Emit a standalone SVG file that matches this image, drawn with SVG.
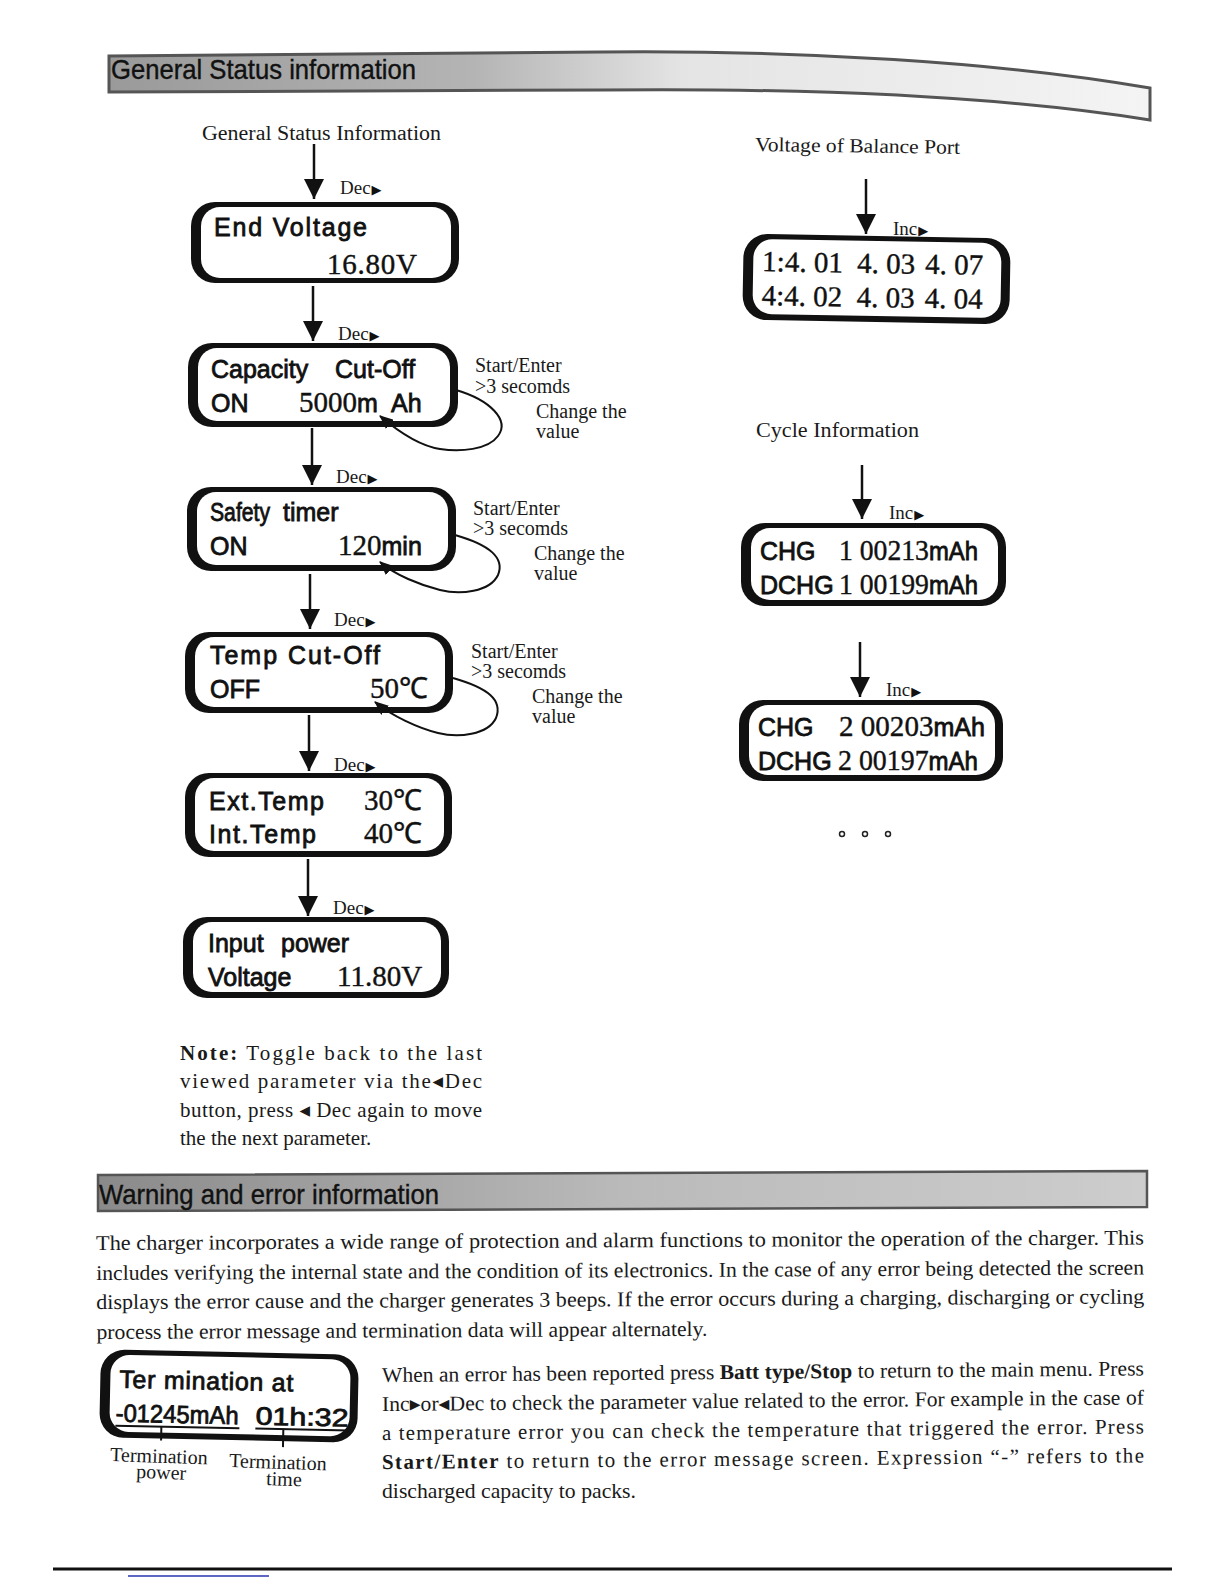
<svg xmlns="http://www.w3.org/2000/svg" width="1224" height="1584" viewBox="0 0 1224 1584">
<defs>
<style>
.bo{fill:#111}
.bi{fill:#fff}
.lcd{font-family:"Liberation Sans",Arial,sans-serif;font-size:25px;fill:#111;stroke:#111;stroke-width:0.8}
.num{font-family:"Liberation Serif","Times New Roman",serif;font-size:29px;fill:#111;stroke:#111;stroke-width:0.4}
.ser{font-family:"Liberation Serif","Times New Roman",serif;font-size:20px;fill:#1a1a1a}
.lbl{font-family:"Liberation Serif","Times New Roman",serif;font-size:19px;fill:#1a1a1a}
.tri{font-family:"DejaVu Sans",sans-serif;font-size:13px;fill:#111}
.arr{stroke:#111;stroke-width:2.5;fill:none}
.loop{stroke:#111;stroke-width:2;fill:none}
.hdr{font-family:"Liberation Sans",Arial,sans-serif;font-size:28px;fill:#111;stroke:#111;stroke-width:0.4}
.body{font-family:"Liberation Serif","DejaVu Sans","Times New Roman",serif;font-size:21px;fill:#1a1a1a}
</style>
<marker id="ah" markerWidth="20" markerHeight="20" refX="20" refY="10" orient="auto" markerUnits="userSpaceOnUse">
<path d="M0,0 L20,10 L0,20 Z" fill="#111"/>
</marker>
<marker id="sh" markerWidth="14" markerHeight="12" refX="13" refY="6" orient="auto" markerUnits="userSpaceOnUse">
<path d="M0,0 L14,6 L0,12 Z" fill="#111"/>
</marker>
<linearGradient id="g1" x1="0" y1="0" x2="1" y2="0">
<stop offset="0" stop-color="#9a9a9a"/>
<stop offset="0.35" stop-color="#b4b4b4"/>
<stop offset="0.55" stop-color="#e4e4e4"/>
<stop offset="1" stop-color="#f4f4f4"/>
</linearGradient>
<linearGradient id="g2" x1="0" y1="0" x2="1" y2="0">
<stop offset="0" stop-color="#8a8a8a"/>
<stop offset="0.5" stop-color="#bababa"/>
<stop offset="1" stop-color="#cdcdcd"/>
</linearGradient>
</defs>
<rect width="1224" height="1584" fill="#fff"/>

<g id="header-general">
<path d="M109,56 L600,52 C800,50 1000,62 1150,88 L1150,120 C1000,96 800,88 600,90 L109,92 Z" fill="url(#g1)" stroke="#555" stroke-width="3"/>
<text class="hdr" x="111" y="79" textLength="305" lengthAdjust="spacingAndGlyphs">General Status information</text>
</g>

<g id="title-general">
<text class="ser" x="202" y="140" textLength="239" lengthAdjust="spacingAndGlyphs">General Status Information</text>
</g>

<g id="n-end-voltage">
<rect class="bo" x="191" y="202" width="268" height="81" rx="24"/>
<rect class="bi" x="201" y="207" width="250" height="71" rx="19"/>
<text class="lcd" x="214" y="236" textLength="153" lengthAdjust="spacing">End Voltage</text>
<text class="num" x="327" y="274" font-size="30" textLength="90" lengthAdjust="spacing">16.80V</text>
</g>

<g id="n-capacity">
<rect class="bo" x="188" y="343" width="270" height="84" rx="24"/>
<rect class="bi" x="198" y="348" width="252" height="73" rx="19"/>
<text class="lcd" x="211" y="378">Capacity</text>
<text class="lcd" x="335" y="378">Cut-Off</text>
<text class="lcd" x="211" y="412">ON</text>
<text x="299" y="412"><tspan class="num">5000</tspan><tspan class="lcd">m</tspan><tspan class="lcd" x="391">Ah</tspan></text>
</g>

<g id="n-safety">
<rect class="bo" x="187" y="487" width="269" height="84" rx="24"/>
<rect class="bi" x="197" y="492" width="251" height="73" rx="19"/>
<text class="lcd" x="210" y="521" textLength="60" lengthAdjust="spacingAndGlyphs">Safety</text>
<text class="lcd" x="283" y="521">timer</text>
<text class="lcd" x="210" y="555">ON</text>
<text x="338" y="555"><tspan class="num">120</tspan><tspan class="lcd">min</tspan></text>
</g>

<g id="n-temp-cutoff">
<rect class="bo" x="185" y="632" width="268" height="81" rx="24"/>
<rect class="bi" x="195" y="637" width="250" height="70" rx="19"/>
<text class="lcd" x="210" y="664" textLength="170" lengthAdjust="spacing">Temp Cut-Off</text>
<text class="lcd" x="210" y="698">OFF</text>
<text class="num" x="370" y="698">50℃</text>
</g>

<g id="n-temps">
<rect class="bo" x="185" y="773" width="267" height="84" rx="24"/>
<rect class="bi" x="195" y="778" width="249" height="73" rx="19"/>
<text class="lcd" x="209" y="810" textLength="115" lengthAdjust="spacing">Ext.Temp</text>
<text class="num" x="364" y="810">30℃</text>
<text class="lcd" x="209" y="843" textLength="107" lengthAdjust="spacing">Int.Temp</text>
<text class="num" x="364" y="843">40℃</text>
</g>

<g id="n-input-power">
<rect class="bo" x="183" y="917" width="266" height="81" rx="24"/>
<rect class="bi" x="193" y="922" width="248" height="70" rx="19"/>
<text class="lcd" x="208" y="952">Input</text>
<text class="lcd" x="281" y="952">power</text>
<text class="lcd" x="208" y="986">Voltage</text>
<text class="num" x="337" y="986" font-size="30">11.80V</text>
</g>

<g id="note">
<text class="body" x="180" y="1060" textLength="302" lengthAdjust="spacing"><tspan font-weight="bold">Note:</tspan> Toggle back to the last</text>
<text class="body" x="180" y="1088" textLength="302" lengthAdjust="spacing">viewed parameter via the◂Dec</text>
<text class="body" x="180" y="1117" textLength="302" lengthAdjust="spacing">button, press ◂ Dec again to move</text>
<text class="body" x="180" y="1145">the the next parameter.</text>
</g>

<g id="title-balance">
<text class="ser" x="755" y="151" transform="rotate(0.8 755 151)" textLength="205" lengthAdjust="spacingAndGlyphs">Voltage of Balance Port</text>
</g>

<g id="n-balance" transform="rotate(1 876 279)">
<rect class="bo" x="743" y="236" width="267" height="86" rx="24"/>
<rect class="bi" x="753" y="241" width="248" height="75" rx="19"/>
<text class="num" x="762" y="273" font-size="30">1:4. 01</text>
<text class="num" x="857" y="273" font-size="30">4. 03</text>
<text class="num" x="925" y="273" font-size="30">4. 07</text>
<text class="num" x="762" y="307" font-size="30">4:4. 02</text>
<text class="num" x="857" y="307" font-size="30">4. 03</text>
<text class="num" x="925" y="307" font-size="30">4. 04</text>
</g>

<g id="title-cycle">
<text class="ser" x="756" y="437" textLength="163" lengthAdjust="spacingAndGlyphs">Cycle Information</text>
</g>

<g id="n-cycle1">
<rect class="bo" x="741" y="523" width="265" height="83" rx="24"/>
<rect class="bi" x="751" y="528" width="247" height="72" rx="19"/>
<text class="lcd" x="760" y="560" font-size="24">CHG</text>
<text x="839" y="560" textLength="139" lengthAdjust="spacingAndGlyphs"><tspan class="num" font-size="28">1 00213</tspan><tspan class="lcd" font-size="24">mAh</tspan></text>
<text class="lcd" x="760" y="594" font-size="24">DCHG</text>
<text x="839" y="594" textLength="139" lengthAdjust="spacingAndGlyphs"><tspan class="num" font-size="28">1 00199</tspan><tspan class="lcd" font-size="24">mAh</tspan></text>
</g>

<g id="n-cycle2">
<rect class="bo" x="739" y="700" width="264" height="81" rx="24"/>
<rect class="bi" x="749" y="705" width="246" height="70" rx="19"/>
<text class="lcd" x="758" y="736" font-size="24">CHG</text>
<text x="839" y="736" textLength="146" lengthAdjust="spacingAndGlyphs"><tspan class="num" font-size="28">2 00203</tspan><tspan class="lcd" font-size="24">mAh</tspan></text>
<text class="lcd" x="758" y="770" font-size="24">DCHG</text>
<text x="838" y="770" textLength="140" lengthAdjust="spacingAndGlyphs"><tspan class="num" font-size="28">2 00197</tspan><tspan class="lcd" font-size="24">mAh</tspan></text>
</g>

<g id="dots" fill="none" stroke="#222" stroke-width="1.5">
<circle cx="842" cy="834" r="2.5"/>
<circle cx="865" cy="834" r="2.5"/>
<circle cx="888" cy="834" r="2.5"/>
</g>

<g id="connectors">
<line class="arr" x1="314" y1="144" x2="314" y2="199" marker-end="url(#ah)"/>
<line class="arr" x1="313" y1="286" x2="313" y2="341" marker-end="url(#ah)"/>
<line class="arr" x1="312" y1="428" x2="312" y2="485" marker-end="url(#ah)"/>
<line class="arr" x1="310" y1="574" x2="310" y2="629" marker-end="url(#ah)"/>
<line class="arr" x1="309" y1="715" x2="309" y2="771" marker-end="url(#ah)"/>
<line class="arr" x1="308" y1="859" x2="308" y2="916" marker-end="url(#ah)"/>
<line class="arr" x1="866" y1="179" x2="866" y2="234" marker-end="url(#ah)"/>
<line class="arr" x1="862" y1="465" x2="862" y2="519" marker-end="url(#ah)"/>
<line class="arr" x1="860" y1="642" x2="860" y2="697" marker-end="url(#ah)"/>
<path class="loop" d="M456,390 C490,400 510,420 498,436 C488,450 460,452 440,449 C420,446 400,433 380,416" marker-end="url(#sh)"/>
<path class="loop" d="M455,535 C490,545 505,558 498,575 C490,592 460,595 440,590 C420,585 395,575 380,562" marker-end="url(#sh)"/>
<path class="loop" d="M453,678 C488,688 503,700 496,718 C488,735 458,738 438,733 C418,728 392,716 375,702" marker-end="url(#sh)"/>
<text class="lbl" x="340" y="194">Dec<tspan class="tri" dx="1">▶</tspan></text>
<text class="lbl" x="338" y="340">Dec<tspan class="tri" dx="1">▶</tspan></text>
<text class="lbl" x="336" y="483">Dec<tspan class="tri" dx="1">▶</tspan></text>
<text class="lbl" x="334" y="626">Dec<tspan class="tri" dx="1">▶</tspan></text>
<text class="lbl" x="334" y="771">Dec<tspan class="tri" dx="1">▶</tspan></text>
<text class="lbl" x="333" y="914">Dec<tspan class="tri" dx="1">▶</tspan></text>
<text class="lbl" x="893" y="235">Inc<tspan class="tri" dx="1">▶</tspan></text>
<text class="lbl" x="889" y="519">Inc<tspan class="tri" dx="1">▶</tspan></text>
<text class="lbl" x="886" y="696">Inc<tspan class="tri" dx="1">▶</tspan></text>
<text class="ser" x="475" y="372">Start/Enter</text>
<text class="ser" x="475" y="393">&gt;3 secomds</text>
<text class="ser" x="536" y="418">Change the</text>
<text class="ser" x="536" y="438">value</text>
<text class="ser" x="473" y="515">Start/Enter</text>
<text class="ser" x="473" y="535">&gt;3 secomds</text>
<text class="ser" x="534" y="560">Change the</text>
<text class="ser" x="534" y="580">value</text>
<text class="ser" x="471" y="658">Start/Enter</text>
<text class="ser" x="471" y="678">&gt;3 secomds</text>
<text class="ser" x="532" y="703">Change the</text>
<text class="ser" x="532" y="723">value</text>
</g>

<g id="header-warning">
<path d="M98,1175 L1147,1171 L1147,1207 L98,1211 Z" fill="url(#g2)" stroke="#555" stroke-width="2.5"/>
<text class="hdr" x="99" y="1204" textLength="340" lengthAdjust="spacingAndGlyphs">Warning and error information</text>
</g>

<g id="warning-text" transform="rotate(-0.3 96 1250)">
<text class="body" x="96" y="1250" textLength="1048" lengthAdjust="spacingAndGlyphs">The charger incorporates a wide range of protection and alarm functions to monitor the operation of the charger. This</text>
<text class="body" x="96" y="1280" textLength="1048" lengthAdjust="spacingAndGlyphs">includes verifying the internal state and the condition of its electronics. In the case of any error being detected the screen</text>
<text class="body" x="96" y="1309" textLength="1048" lengthAdjust="spacingAndGlyphs">displays the error cause and the charger generates 3 beeps. If the error occurs during a charging, discharging or cycling</text>
<text class="body" x="96" y="1339" textLength="611" lengthAdjust="spacingAndGlyphs">process the error message and termination data will appear alternately.</text>
</g>

<g id="n-termination" transform="rotate(1.2 229 1397)">
<rect class="bo" x="100" y="1352" width="258" height="88" rx="24"/>
<rect class="bi" x="110" y="1357" width="240" height="77" rx="19"/>
<text class="lcd" x="119" y="1390" font-size="25" textLength="174" lengthAdjust="spacing">Ter mination at</text>
<text class="lcd" x="116" y="1424" font-size="25" textLength="123" lengthAdjust="spacingAndGlyphs">-01245mAh</text>
<text class="lcd" x="256" y="1424" font-size="25" textLength="93" lengthAdjust="spacingAndGlyphs">01h:32</text>
<line x1="116" y1="1428" x2="240" y2="1428" stroke="#111" stroke-width="2"/>
<line x1="256" y1="1428" x2="350" y2="1428" stroke="#111" stroke-width="2"/>
<line x1="162" y1="1428" x2="162" y2="1442" stroke="#111" stroke-width="2"/>
<line x1="284" y1="1428" x2="284" y2="1446" stroke="#111" stroke-width="2"/>
</g>

<g id="termination-labels">
<text class="ser" x="110" y="1461" transform="rotate(2 110 1461)">Termination</text>
<text class="ser" x="136" y="1478" transform="rotate(2 136 1478)">power</text>
<text class="ser" x="229" y="1467" transform="rotate(2 229 1467)">Termination</text>
<text class="ser" x="266" y="1485" transform="rotate(2 266 1485)">time</text>
</g>

<g id="error-text">
<text class="body" x="382" y="1382" font-size="20" textLength="762" lengthAdjust="spacingAndGlyphs" transform="rotate(-0.5 382 1382)">When an error has been reported press <tspan font-weight="bold">Batt type/Stop</tspan>  to return to the main menu. Press</text>
<text class="body" x="382" y="1411" font-size="20" textLength="762" lengthAdjust="spacingAndGlyphs" transform="rotate(-0.5 382 1411)">Inc▸or◂Dec to check the parameter value related to the error. For example in the case of</text>
<text class="body" x="382" y="1440" font-size="20" textLength="762" lengthAdjust="spacing" transform="rotate(-0.5 382 1440)">a temperature error you can check the temperature that triggered the error. Press</text>
<text class="body" x="382" y="1469" font-size="20" textLength="762" lengthAdjust="spacing" transform="rotate(-0.5 382 1469)"><tspan font-weight="bold">Start/Enter</tspan> to return to the error message screen. Expression  “-”  refers to the</text>
<text class="body" x="382" y="1498" font-size="20" textLength="254" lengthAdjust="spacingAndGlyphs">discharged capacity to packs.</text>
</g>

<g id="footer">
<line x1="53" y1="1569" x2="1172" y2="1569" stroke="#111" stroke-width="3"/>
<line x1="128" y1="1576" x2="269" y2="1576" stroke="#2a35b0" stroke-width="1.5"/>
</g>
</svg>
